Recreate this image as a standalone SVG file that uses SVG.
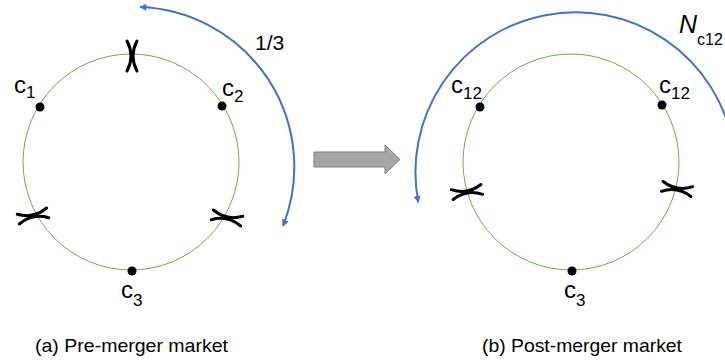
<svg xmlns="http://www.w3.org/2000/svg" width="725" height="362" viewBox="0 0 725 362">
<style>
.ring{fill:none;stroke:#70AD47;stroke-width:1}
.dot{fill:#000}
.cut{fill:none;stroke:#000;stroke-width:3;stroke-linecap:round}
.arc{fill:none;stroke:#4472C4;stroke-width:2}
.lbl{font-family:"Liberation Sans",Arial,sans-serif;fill:#000}
.cap{font-family:"Liberation Sans",Arial,sans-serif;font-size:19px;fill:#000}
</style>
<defs>
<marker id="ah" viewBox="0 0 10 10" refX="9" refY="5" markerWidth="8" markerHeight="7" markerUnits="userSpaceOnUse" orient="auto-start-reverse">
<path d="M0,0 L10,5 L0,10 Z" fill="#4472C4"/>
</marker>
<g id="cutmark">
<path class="cut" d="M-5,-15 Q3,0 -5,15"/>
<path class="cut" d="M5,-15 Q-3,0 5,15"/>
</g>
</defs>

<g id="pre-market">
<circle class="ring" cx="131" cy="162" r="108"/>
<use href="#cutmark" transform="translate(132,56)"/>
<use href="#cutmark" transform="translate(33,216) rotate(78)"/>
<use href="#cutmark" transform="translate(227,218) rotate(-78)"/>
</g>
<g id="c1">
<circle class="dot" cx="40" cy="107" r="4.5"/>
<text class="lbl" x="14" y="93" font-size="24">c<tspan font-size="17" dy="5">1</tspan></text>
</g>
<g id="c2">
<circle class="dot" cx="222" cy="106" r="4.5"/>
<text class="lbl" x="222" y="96" font-size="24">c<tspan font-size="17" dy="6">2</tspan></text>
</g>
<g id="c3-pre">
<circle class="dot" cx="132" cy="271" r="4.5"/>
<text class="lbl" x="121" y="298" font-size="24">c<tspan font-size="17" dy="8">3</tspan></text>
</g>
<g id="label-third">
<text class="lbl" x="255" y="50" font-size="21">1/3</text>
</g>

<g id="post-market">
<circle class="ring" cx="571" cy="162" r="108"/>
<use href="#cutmark" transform="translate(467,192) rotate(80)"/>
<use href="#cutmark" transform="translate(677,189) rotate(-80)"/>
</g>
<g id="c12-left">
<circle class="dot" cx="480" cy="107" r="4.5"/>
<text class="lbl" x="451" y="93" font-size="24">c<tspan font-size="17" dy="6">12</tspan></text>
</g>
<g id="c12-right">
<circle class="dot" cx="662" cy="105" r="4.5"/>
<text class="lbl" x="659" y="93" font-size="24">c<tspan font-size="17" dy="6">12</tspan></text>
</g>
<g id="c3-post">
<circle class="dot" cx="572" cy="271" r="4.5"/>
<text class="lbl" x="564" y="298" font-size="24">c<tspan font-size="17" dy="8">3</tspan></text>
</g>
<g id="label-N">
<text class="lbl" x="679" y="33" font-size="25" font-style="italic">N<tspan font-style="normal" font-size="16" dy="12">c12</tspan></text>
</g>

<g id="merge-arrow">
<path d="M314,152 L385,152 L385,145 L400,159.5 L385,174 L385,167 L314,167 Z" fill="#A6A6A6" stroke="#7F7F7F" stroke-width="1"/>
</g>

<g id="connectors">
<path class="arc" d="M140,7 A160,160 0 0 1 283,226" marker-start="url(#ah)" marker-end="url(#ah)"/>
<path class="arc" d="M732.6,142.2 A160,160 0 1 0 418.3,202.4" marker-end="url(#ah)"/>
</g>

<g id="captions">
<text class="cap" x="35" y="352" textLength="193" lengthAdjust="spacingAndGlyphs">(a) Pre-merger market</text>
<text class="cap" x="482" y="352" textLength="200" lengthAdjust="spacingAndGlyphs">(b) Post-merger market</text>
</g>
</svg>
